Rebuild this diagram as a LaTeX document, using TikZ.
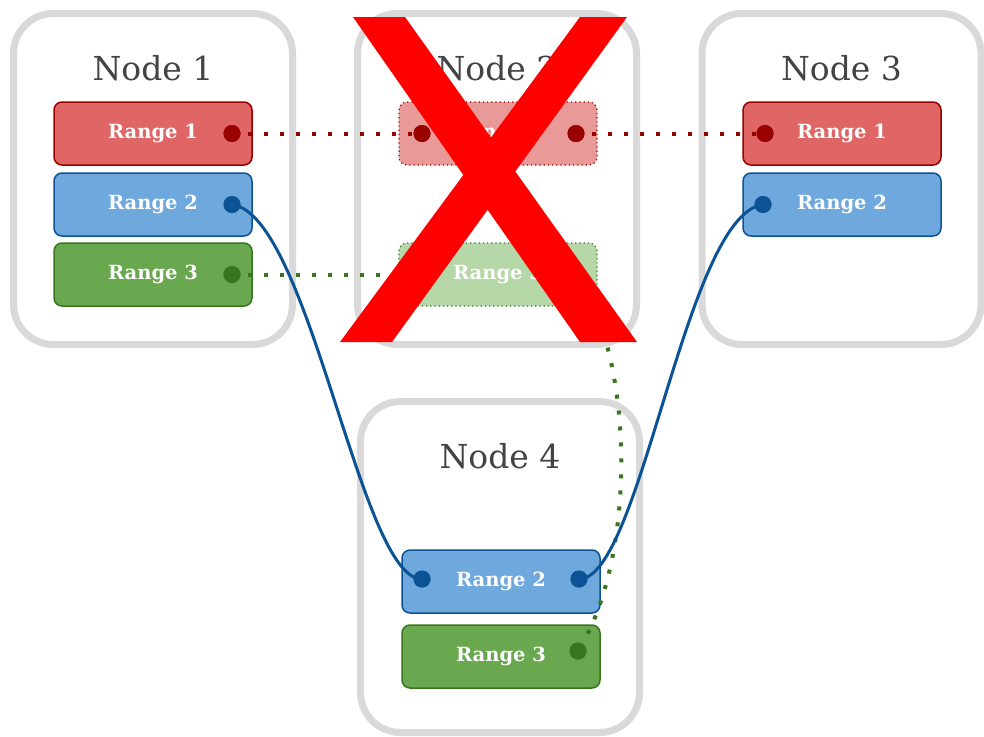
\documentclass[tikz,border=0pt]{standalone}
\usepackage{fontspec}
\setmainfont{DejaVu Serif}
\definecolor{boxgray}{HTML}{D9D9D9}
\definecolor{titlegray}{HTML}{434343}
\definecolor{redfill}{HTML}{E06666}
\definecolor{redline}{HTML}{990000}
\definecolor{redfaint}{HTML}{EA9999}
\definecolor{bluefill}{HTML}{6FA8DC}
\definecolor{blueline}{HTML}{0B5394}
\definecolor{greenfill}{HTML}{6AA84F}
\definecolor{greenline}{HTML}{38761D}
\definecolor{greenfaint}{HTML}{B6D7A8}
\definecolor{crossred}{HTML}{FF0000}
\tikzset{
  container/.style={draw=boxgray, fill=white, line width=7pt, rounded corners=40pt,
    minimum width=279pt, minimum height=331pt, inner sep=0pt},
  title/.style={text=titlegray, font=\fontsize{33}{36}\selectfont, inner sep=0pt},
  rangebox/.style={rounded corners=8pt, line width=1.5pt, minimum width=198pt,
    minimum height=63pt, inner sep=0pt, text=white, font=\bfseries\fontsize{19.5}{22}\selectfont},
  redbox/.style={rangebox, fill=redfill, draw=redline},
  bluebox/.style={rangebox, fill=bluefill, draw=blueline},
  greenbox/.style={rangebox, fill=greenfill, draw=greenline},
  redghost/.style={rangebox, fill=redfaint, draw=redline, line width=1.2pt, dash pattern=on 1.2pt off 3pt},
  greenghost/.style={rangebox, fill=greenfaint, draw=greenline, line width=1.2pt, dash pattern=on 1.2pt off 3pt},
  port/.style={circle, minimum size=17pt, inner sep=0pt},
  redport/.style={port, fill=redline},
  blueport/.style={port, fill=blueline},
  greenport/.style={port, fill=greenline},
  dotlink/.style={line width=4pt, dash pattern=on 4pt off 12pt},
  bluelink/.style={draw=blueline, line width=3pt},
}
\begin{document}
\begin{tikzpicture}[x=1pt, y=-1pt]
\useasboundingbox (0,0) rectangle (984,736);

% containers
\node[container] (c1) at (153,179) {};
\node[container] (c2) at (497,179) {};
\node[container] (c3) at (841.5,179) {};
\node[container] (c4) at (500,567) {};

% titles
\node[title] (t1) at (153,68) {Node 1};
\node[title] (t2) at (497,68) {Node 2};
\node[title] (t3) at (841.5,68) {Node 3};
\node[title] (t4) at (500,456) {Node 4};

% range boxes
\node[redbox]   (a1) at (153,133.5) {Range 1};
\node[bluebox]  (a2) at (153,204.5) {Range 2};
\node[greenbox] (a3) at (153,274.5) {Range 3};

\node[redghost]   (b1) at (498,133.5) {Range 1};
\node[greenghost] (b3) at (498,274.5) {Range 3};

\node[redbox]  (e1) at (842,133.5) {Range 1};
\node[bluebox] (e2) at (842,204.5) {Range 2};

\node[bluebox]  (f2) at (501,581.5) {Range 2};
\node[greenbox] (f3) at (501,656.5) {Range 3};

% ports
\node[redport]   (pa1) at (232,133.5) {};
\node[blueport]  (pa2) at (232,204.5) {};
\node[greenport] (pa3) at (232,274.5) {};
\node[redport]   (pb1l) at (422,133.5) {};
\node[redport]   (pb1r) at (576,133.5) {};
\node[greenport] (pb3l) at (422,274.5) {};
\node[greenport] (pb3r) at (576,274.5) {};
\node[redport]   (pe1) at (765,133.5) {};
\node[blueport]  (pe2) at (763,204.5) {};
\node[blueport]  (pf2l) at (422,579) {};
\node[blueport]  (pf2r) at (579,579) {};
\node[greenport] (pf3) at (578,651) {};

% connectors
\draw[dotlink, draw=redline] (pa1.center) -- (pb1l.center);
\draw[dotlink, draw=redline] (pb1r.center) -- (pe1.center);
\draw[dotlink, draw=greenline] (pa3.center) -- (pb3l.center);
\draw[dotlink, draw=greenline] (pb3r.center) .. controls (636,360) and (636,560) .. (pf3.center);
\draw[bluelink] (pa2.center) .. controls (310,215) and (360,580) .. (pf2l.center);
\draw[bluelink] (pf2r.center) .. controls (641,580) and (685,215) .. (pe2.center);

% redraw ports above the connectors
\foreach \p/\c in {pa1/redline, pa2/blueline, pa3/greenline, pb1l/redline, pb1r/redline,
  pb3l/greenline, pb3r/greenline, pe1/redline, pe2/blueline, pf2l/blueline, pf2r/blueline, pf3/greenline}
  \fill[\c] (\p.center) circle (8.5pt);

% cross over the removed node
\fill[crossred] (353,17) -- (405,17) -- (637,342) -- (580,342) -- cycle;
\fill[crossred] (580,17) -- (627,17) -- (392,342) -- (340,342) -- cycle;
\end{tikzpicture}
\end{document}
